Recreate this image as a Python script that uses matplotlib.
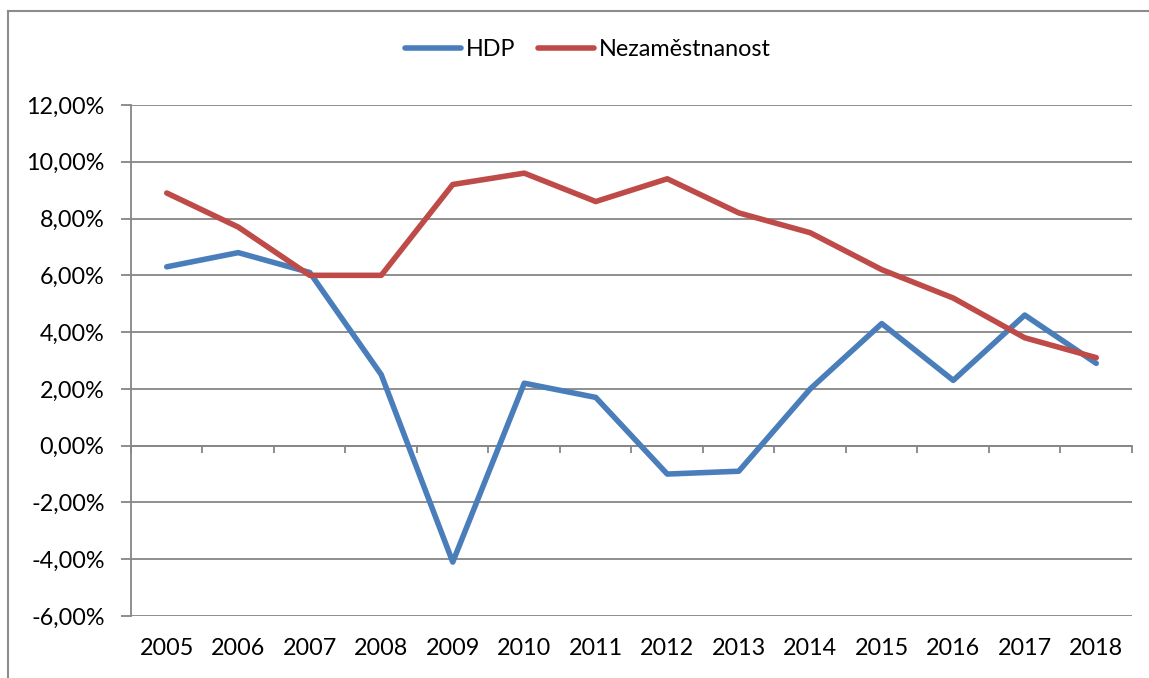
import numpy as np
import matplotlib.pyplot as plt
from matplotlib.lines import Line2D
from matplotlib.ticker import FuncFormatter

years = ['2005', '2006', '2007', '2008', '2009', '2010', '2011',
         '2012', '2013', '2014', '2015', '2016', '2017', '2018']
hdp = [6.3, 6.8, 6.1, 2.5, -4.1, 2.2, 1.7, -1.0, -0.9, 2.0, 4.3, 2.3, 4.6, 2.9]
nezamestnanost = [8.9, 7.7, 6.0, 6.0, 9.2, 9.6, 8.6, 9.4, 8.2, 7.5, 6.2, 5.2, 3.8, 3.1]

plt.rcParams['font.family'] = ['Lato', 'DejaVu Sans']
plt.rcParams['font.size'] = 16.8

grid_col = '#868686'
W, H = 1149, 678

fig = plt.figure(figsize=(W / 100, H / 100), dpi=100)
ax = fig.add_axes([131 / W, 1 - 616 / H, (1132 - 131) / W, (616 - 105) / H])

# outer chart frame (left and top edges visible)
fig.add_artist(Line2D([8 / W, 8 / W], [0, 1 - 11 / H], transform=fig.transFigure,
                      color='#8c8c8c', linewidth=1.5))
fig.add_artist(Line2D([8 / W, 1], [1 - 11 / H, 1 - 11 / H], transform=fig.transFigure,
                      color='#8c8c8c', linewidth=1.5))

x = np.arange(len(years))
ax.plot(x, hdp, color='#4A7EBB', linewidth=4.0, label='HDP', solid_capstyle='round')
ax.plot(x, nezamestnanost, color='#BE4B48', linewidth=4.0, label='Nezaměstnanost',
        solid_capstyle='round')

ax.set_xlim(-0.5, len(years) - 0.5)
ax.set_ylim(-6, 12)
ax.set_yticks(np.arange(-6, 13, 2))
ax.yaxis.set_major_formatter(FuncFormatter(lambda v, p: f'{v:.2f}%'.replace('.', ',')))
ax.yaxis.grid(True, color=grid_col, linewidth=1.3)
ax.set_axisbelow(True)

ax.set_xticks(x)
ax.set_xticklabels(years)
ax.tick_params(axis='x', length=0, pad=16)
ax.tick_params(axis='y', length=7, color=grid_col, width=1.3, pad=12)

for s in ['top', 'right', 'bottom']:
    ax.spines[s].set_visible(False)
ax.spines['left'].set_color(grid_col)
ax.spines['left'].set_linewidth(1.3)

# category axis crossing at zero
sec = ax.secondary_xaxis(6 / 18)
sec.set_xticks(np.arange(-0.5, len(years), 1.0))
sec.tick_params(axis='x', length=5, color=grid_col, width=1.3, labelbottom=False)
sec.spines['bottom'].set_color(grid_col)
sec.spines['bottom'].set_linewidth(1.3)

fig.legend(loc='center', bbox_to_anchor=(588 / W, 1 - 50 / H), ncol=2, frameon=False,
           handlelength=2.4, handletextpad=0.2, columnspacing=1.0, fontsize=16.8)

fig.savefig('out.png', dpi=100)
